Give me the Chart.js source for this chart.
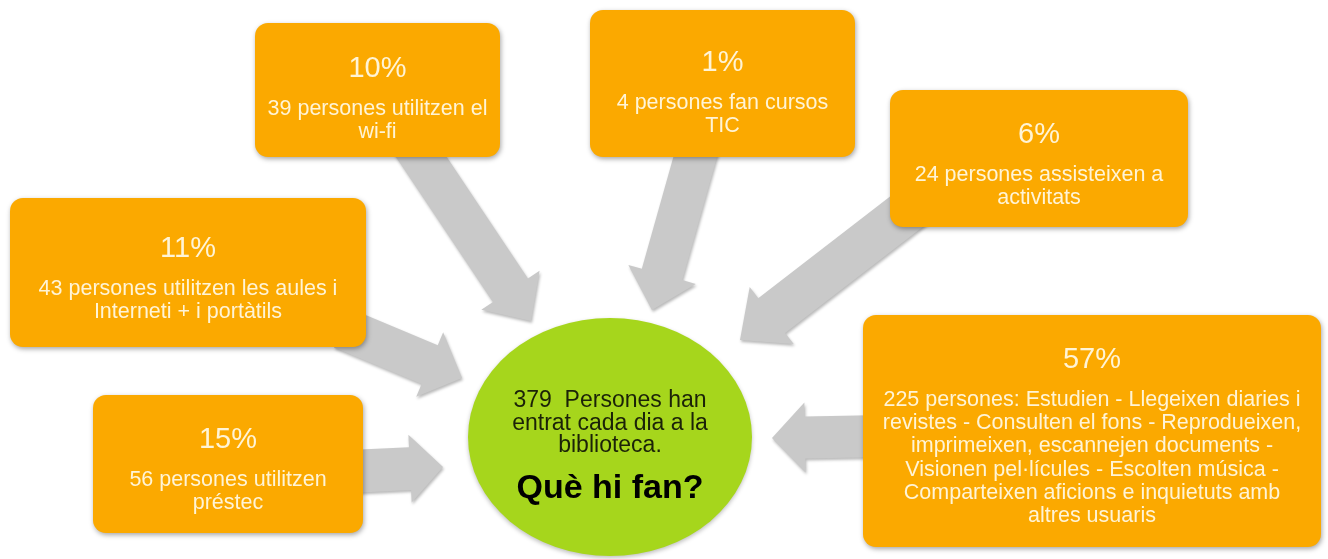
<!DOCTYPE html>
<html>
<head>
<meta charset="utf-8">
<title>Què hi fan?</title>
<script src="https://cdn.jsdelivr.net/npm/chart.js@4"></script>
<style>
  html, body { margin: 0; padding: 0; background: #fff; }
  #wrap { width: 1328px; height: 559px; position: relative; }
</style>
</head>
<body>
<div id="wrap"><canvas id="myChart"></canvas></div>
<script>
// data
const categories = ['wi-fi', 'cursos TIC', 'activitats', 'aules i portàtils', 'préstec', 'altres usos'];
const percents = [10, 1, 6, 11, 15, 57];
const counts = [39, 4, 24, 43, 56, 225];
const descLines = [
  ['persones utilitzen el', 'wi-fi'],
  ['persones fan cursos', 'TIC'],
  ['persones assisteixen a', 'activitats'],
  ['persones utilitzen les aules i', 'Interneti + i portàtils'],
  ['persones utilitzen', 'préstec'],
  ['persones: Estudien - Llegeixen diaries i', 'revistes - Consulten el fons - Reprodueixen,',
   'imprimeixen, escannejen documents -', 'Visionen pel·lícules - Escolten música -',
   'Comparteixen aficions e inquietuts amb', 'altres usuaris']
];
const totalVisitors = 379;
const centreLines = [totalVisitors + '  Persones han', 'entrat cada dia a la', 'biblioteca.'];
const question = 'Què hi fan?';

// layout (in the 1328 x 559 value space of the hidden axes)
const boxes = [
  {x0: 255, y0: 23, x1: 500, y1: 157, textY: 77},
  {x0: 590, y0: 10, x1: 855, y1: 157, textY: 71},
  {x0: 890, y0: 90, x1: 1188, y1: 227, textY: 143},
  {x0: 10, y0: 198, x1: 366, y1: 347, textY: 257},
  {x0: 93, y0: 395, x1: 363, y1: 533, textY: 448},
  {x0: 863, y0: 315, x1: 1321, y1: 547, textY: 368}
];
// arrows: tail, tip, shaft width, head width, head length
const arrows = [
  {from: [410, 140], to: [531, 321], w: 42, hw: 70, hl: 37},
  {from: [700, 140], to: [652, 310], w: 42, hw: 70, hl: 37},
  {from: [932, 192], to: [740, 340], w: 44, hw: 72, hl: 40},
  {from: [342, 328], to: [462, 378], w: 42, hw: 70, hl: 35},
  {from: [340, 472], to: [443, 467], w: 43, hw: 68, hl: 33},
  {from: [885, 436], to: [772, 438], w: 42, hw: 70, hl: 33}
];
const circle = {cx: 610, cy: 437, rx: 142, ry: 119};

const orange = '#FBA900';
const boxText = '#FFF4D6';
const green = '#A6D61C';
const grey = '#C9C9C9';
const font = '"Liberation Sans", Arial, sans-serif';

// draws the whole diagram with the chart's own x / y scales
const diagramPlugin = {
  id: 'diagram',
  beforeDatasetsDraw(chart) {
    const ctx = chart.ctx;
    const xs = chart.scales.x, ys = chart.scales.y;
    const px = v => xs.getPixelForValue(v);
    const py = v => ys.getPixelForValue(v);

    ctx.save();
    ctx.fillStyle = '#fff';
    ctx.fillRect(0, 0, chart.width, chart.height);

    // grey block arrows
    arrows.forEach(a => {
      const tx = px(a.from[0]), ty = py(a.from[1]);
      const hx = px(a.to[0]), hy = py(a.to[1]);
      const len = Math.hypot(hx - tx, hy - ty);
      const dx = (hx - tx) / len, dy = (hy - ty) / len;
      const nx = -dy, ny = dx;
      const bx = hx - dx * a.hl, by = hy - dy * a.hl;
      ctx.save();
      ctx.shadowColor = 'rgba(0,0,0,0.28)';
      ctx.shadowBlur = 3;
      ctx.shadowOffsetX = 1;
      ctx.shadowOffsetY = 2;
      ctx.fillStyle = grey;
      ctx.beginPath();
      ctx.moveTo(tx + nx * a.w / 2, ty + ny * a.w / 2);
      ctx.lineTo(bx + nx * a.w / 2, by + ny * a.w / 2);
      ctx.lineTo(bx + nx * a.hw / 2, by + ny * a.hw / 2);
      ctx.lineTo(hx, hy);
      ctx.lineTo(bx - nx * a.hw / 2, by - ny * a.hw / 2);
      ctx.lineTo(bx - nx * a.w / 2, by - ny * a.w / 2);
      ctx.lineTo(tx - nx * a.w / 2, ty - ny * a.w / 2);
      ctx.closePath();
      ctx.fill();
      ctx.restore();
    });

    // green centre circle
    ctx.save();
    ctx.shadowColor = 'rgba(0,0,0,0.25)';
    ctx.shadowBlur = 4;
    ctx.shadowOffsetY = 2;
    ctx.fillStyle = green;
    ctx.beginPath();
    ctx.ellipse(px(circle.cx), py(circle.cy), Math.abs(px(circle.rx) - px(0)),
      Math.abs(py(circle.ry) - py(0)), 0, 0, Math.PI * 2);
    ctx.fill();
    ctx.restore();

    ctx.textAlign = 'center';
    ctx.textBaseline = 'alphabetic';
    ctx.fillStyle = '#1b2208';
    ctx.font = '23px ' + font;
    centreLines.forEach((t, i) => ctx.fillText(t, px(circle.cx), py(407 + i * 22.5)));
    ctx.fillStyle = '#000';
    ctx.font = 'bold 34px ' + font;
    ctx.fillText(question, px(circle.cx), py(498));

    // orange boxes with percent and description
    boxes.forEach((b, i) => {
      const x0 = px(b.x0), x1 = px(b.x1), y0 = py(b.y0), y1 = py(b.y1);
      ctx.save();
      ctx.shadowColor = 'rgba(0,0,0,0.35)';
      ctx.shadowBlur = 5;
      ctx.shadowOffsetX = 1;
      ctx.shadowOffsetY = 2;
      ctx.fillStyle = orange;
      ctx.beginPath();
      ctx.roundRect(x0, y0, x1 - x0, y1 - y0, 13);
      ctx.fill();
      ctx.restore();

      const cx = (x0 + x1) / 2;
      ctx.fillStyle = boxText;
      ctx.font = '29px ' + font;
      ctx.fillText(percents[i] + '%', cx, py(b.textY));
      ctx.font = '21.5px ' + font;
      descLines[i].forEach((line, j) => {
        const t = j === 0 ? counts[i] + ' ' + line : line;
        ctx.fillText(t, cx, py(b.textY + 38 + j * 23.2));
      });
    });
    ctx.restore();
  }
};

const myChart = new Chart(document.getElementById('myChart'), {
  type: 'scatter',
  data: {
    labels: categories,
    datasets: [{
      label: 'Què hi fan?',
      data: [],
      pointRadius: 0
    }]
  },
  options: {
    responsive: true,
    maintainAspectRatio: false,
    animation: false,
    layout: { padding: 0 },
    plugins: { legend: { display: false }, tooltip: { enabled: false } },
    scales: {
      x: { type: 'linear', min: 0, max: 1328, display: false },
      y: { type: 'linear', min: 0, max: 559, reverse: true, display: false }
    }
  },
  plugins: [diagramPlugin]
});
</script>
</body>
</html>
